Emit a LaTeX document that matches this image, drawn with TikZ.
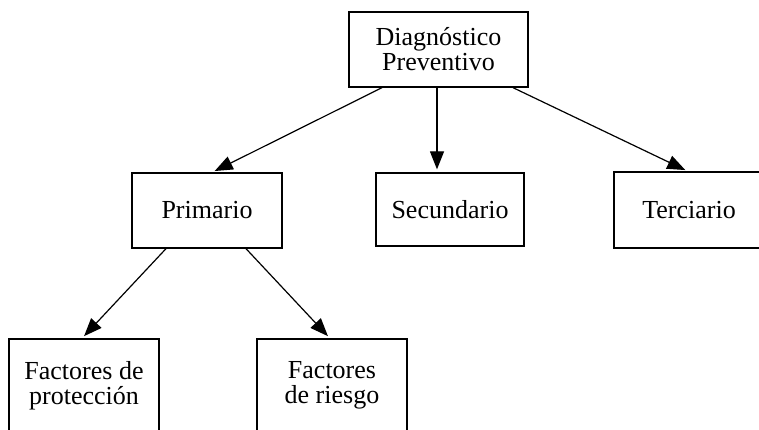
\documentclass[tikz,border=0pt]{standalone}
\usepackage{fontspec}
\setmainfont{Liberation Serif}
\usetikzlibrary{arrows.meta}
\begin{document}
\begin{tikzpicture}[x=1pt,y=-1pt,
  box/.style={draw,line width=1.3pt,rectangle,inner sep=0pt,align=center,
    font=\fontsize{26}{25}\selectfont},
  conn/.style={line width=1.2pt,-{Triangle[length=18pt,width=14pt]},shorten >=3pt}]
\useasboundingbox (0,0) rectangle (759,429);
\clip (0,0) rectangle (759,429);
\node[box,minimum width=179pt,minimum height=75pt] (d) at (438.5,49.5) {Diagnóstico\\Preventivo};
\node[box,minimum width=150pt,minimum height=75pt] (p) at (207,210.5) {Primario};
\node[box,minimum width=148pt,minimum height=73pt] (s) at (450,209.5) {Secundario};
\node[box,minimum width=150pt,minimum height=76pt] (t) at (689,210) {Terciario};
\node[box,minimum width=150pt,minimum height=93pt] (fp) at (84,385.5) {Factores de\\protección};
\node[box,minimum width=150pt,minimum height=93pt] (fr) at (332,385.5) {Factores\\de riesgo};
\draw[conn] ([xshift=-56.5pt]d.south) -- ([xshift=5pt]p.north);
\draw[conn] ([xshift=-1.5pt]d.south) -- ([xshift=-13pt]s.north);
\draw[conn] ([xshift=74.5pt]d.south) -- ([xshift=-1pt]t.north);
\draw[conn] ([xshift=-41pt]p.south) -- ([xshift=-2pt]fp.north);
\draw[conn] ([xshift=39pt]p.south) -- ([xshift=-2pt]fr.north);
\end{tikzpicture}
\end{document}
